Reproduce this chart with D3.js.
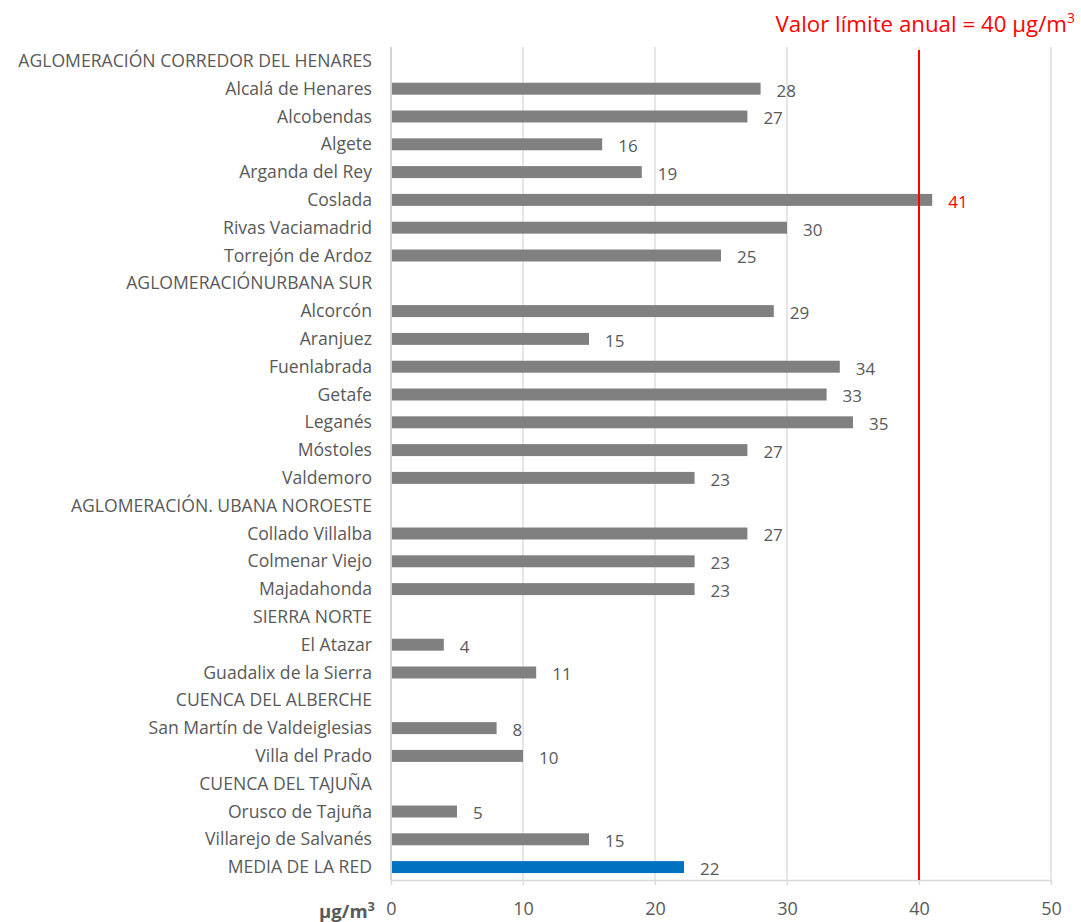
<!DOCTYPE html>
<html><head><meta charset="utf-8">
<script src="https://cdn.jsdelivr.net/npm/d3@7"></script>
<style>body{margin:0;background:#fff}svg{display:block}text{font-family:"Open Sans",Lato,sans-serif}</style>
</head><body><svg id="c" width="1081" height="922"></svg>
<script>
const categories = ["AGLOMERACIÓN CORREDOR DEL HENARES","Alcalá de Henares","Alcobendas","Algete","Arganda del Rey","Coslada","Rivas Vaciamadrid","Torrejón de Ardoz","AGLOMERACIÓNURBANA SUR","Alcorcón","Aranjuez","Fuenlabrada","Getafe","Leganés","Móstoles","Valdemoro","AGLOMERACIÓN. UBANA NOROESTE","Collado Villalba","Colmenar Viejo","Majadahonda","SIERRA NORTE","El Atazar","Guadalix de la Sierra","CUENCA DEL ALBERCHE","San Martín de Valdeiglesias","Villa del Prado","CUENCA DEL TAJUÑA","Orusco de Tajuña","Villarejo de Salvanés","MEDIA DE LA RED"];
const values = [null,28,27,16,19,41,30,25,null,29,15,34,33,35,27,23,null,27,23,23,null,4,11,null,8,10,null,5,15,22.2];
const xTicks = [0,10,20,30,40,50];
const limitValue = 40;
const limitLabel = "Valor límite anual = 40 μg/m";
const unitLabel = "μg/m";

const svg = d3.select("#c");
const x = d3.scaleLinear().domain([0,50]).range([391,1051]);
const y = d3.scaleBand().domain(categories).range([46,880]).paddingInner(0.57).paddingOuter(0.285);

// gridlines
svg.append("g").selectAll("line").data(xTicks.slice(1)).join("line")
  .attr("x1",d=>x(d)).attr("x2",d=>x(d)).attr("y1",47).attr("y2",880)
  .attr("stroke","#d9d9d9").attr("stroke-width",1.3);

// x axis
const xa = svg.append("g").attr("transform","translate(0,880)")
  .call(d3.axisBottom(x).tickValues(xTicks).tickSize(5).tickPadding(17));
xa.select(".domain").attr("stroke","#d9d9d9").attr("stroke-width",1.3);
xa.selectAll(".tick line").attr("stroke","#d9d9d9").attr("stroke-width",1.3);
xa.selectAll(".tick text").attr("fill","#595959").attr("font-size",18).attr("font-family","'Open Sans',sans-serif");

// y axis line
svg.append("line").attr("x1",x(0)).attr("x2",x(0)).attr("y1",47).attr("y2",880)
  .attr("stroke","#bfbfbf").attr("stroke-width",1.3);

// category labels
svg.append("g").selectAll("text").data(categories).join("text")
  .attr("x",372).attr("y",d=>y(d)+y.bandwidth()/2+1).attr("dy","0.35em")
  .attr("text-anchor","end").attr("fill","#595959").attr("font-size",17.6).text(d=>d);

const data = categories.map((c,i)=>({c,v:values[i]})).filter(d=>d.v!=null);
// bars
svg.append("g").selectAll("rect").data(data).join("rect")
  .attr("x",x(0)+1).attr("y",d=>y(d.c)+1).attr("height",y.bandwidth())
  .attr("width",d=>x(d.v)-x(0)-1)
  .attr("fill",d=>d.c==="MEDIA DE LA RED"?"#0070c0":"#808080");

// value labels
svg.append("g").selectAll("text").data(data).join("text")
  .attr("x",d=>x(d.v)+16).attr("y",d=>y(d.c)+y.bandwidth()/2+3).attr("dy","0.35em")
  .attr("fill",d=>d.v>limitValue?"#ff0000":"#595959").attr("font-size",17)
  .text(d=>d3.format(".0f")(d.v));

// limit line
svg.append("line").attr("x1",x(limitValue)).attr("x2",x(limitValue)).attr("y1",50).attr("y2",880)
  .attr("stroke","#ff0000").attr("stroke-width",2);

// limit label
const t = svg.append("text").attr("x",1075).attr("y",32).attr("text-anchor","end")
  .attr("fill","#ff0000").attr("font-size",22.3);
t.append("tspan").text(limitLabel);
t.append("tspan").attr("dy",-9).attr("font-size",14).text("3");

// unit label
const u = svg.append("text").attr("x",375).attr("y",918).attr("text-anchor","end")
  .attr("fill","#595959").attr("font-size",18.5).attr("font-weight","bold");
u.append("tspan").text(unitLabel);
u.append("tspan").attr("dy",-7).attr("font-size",13).text("3");
</script></body></html>
